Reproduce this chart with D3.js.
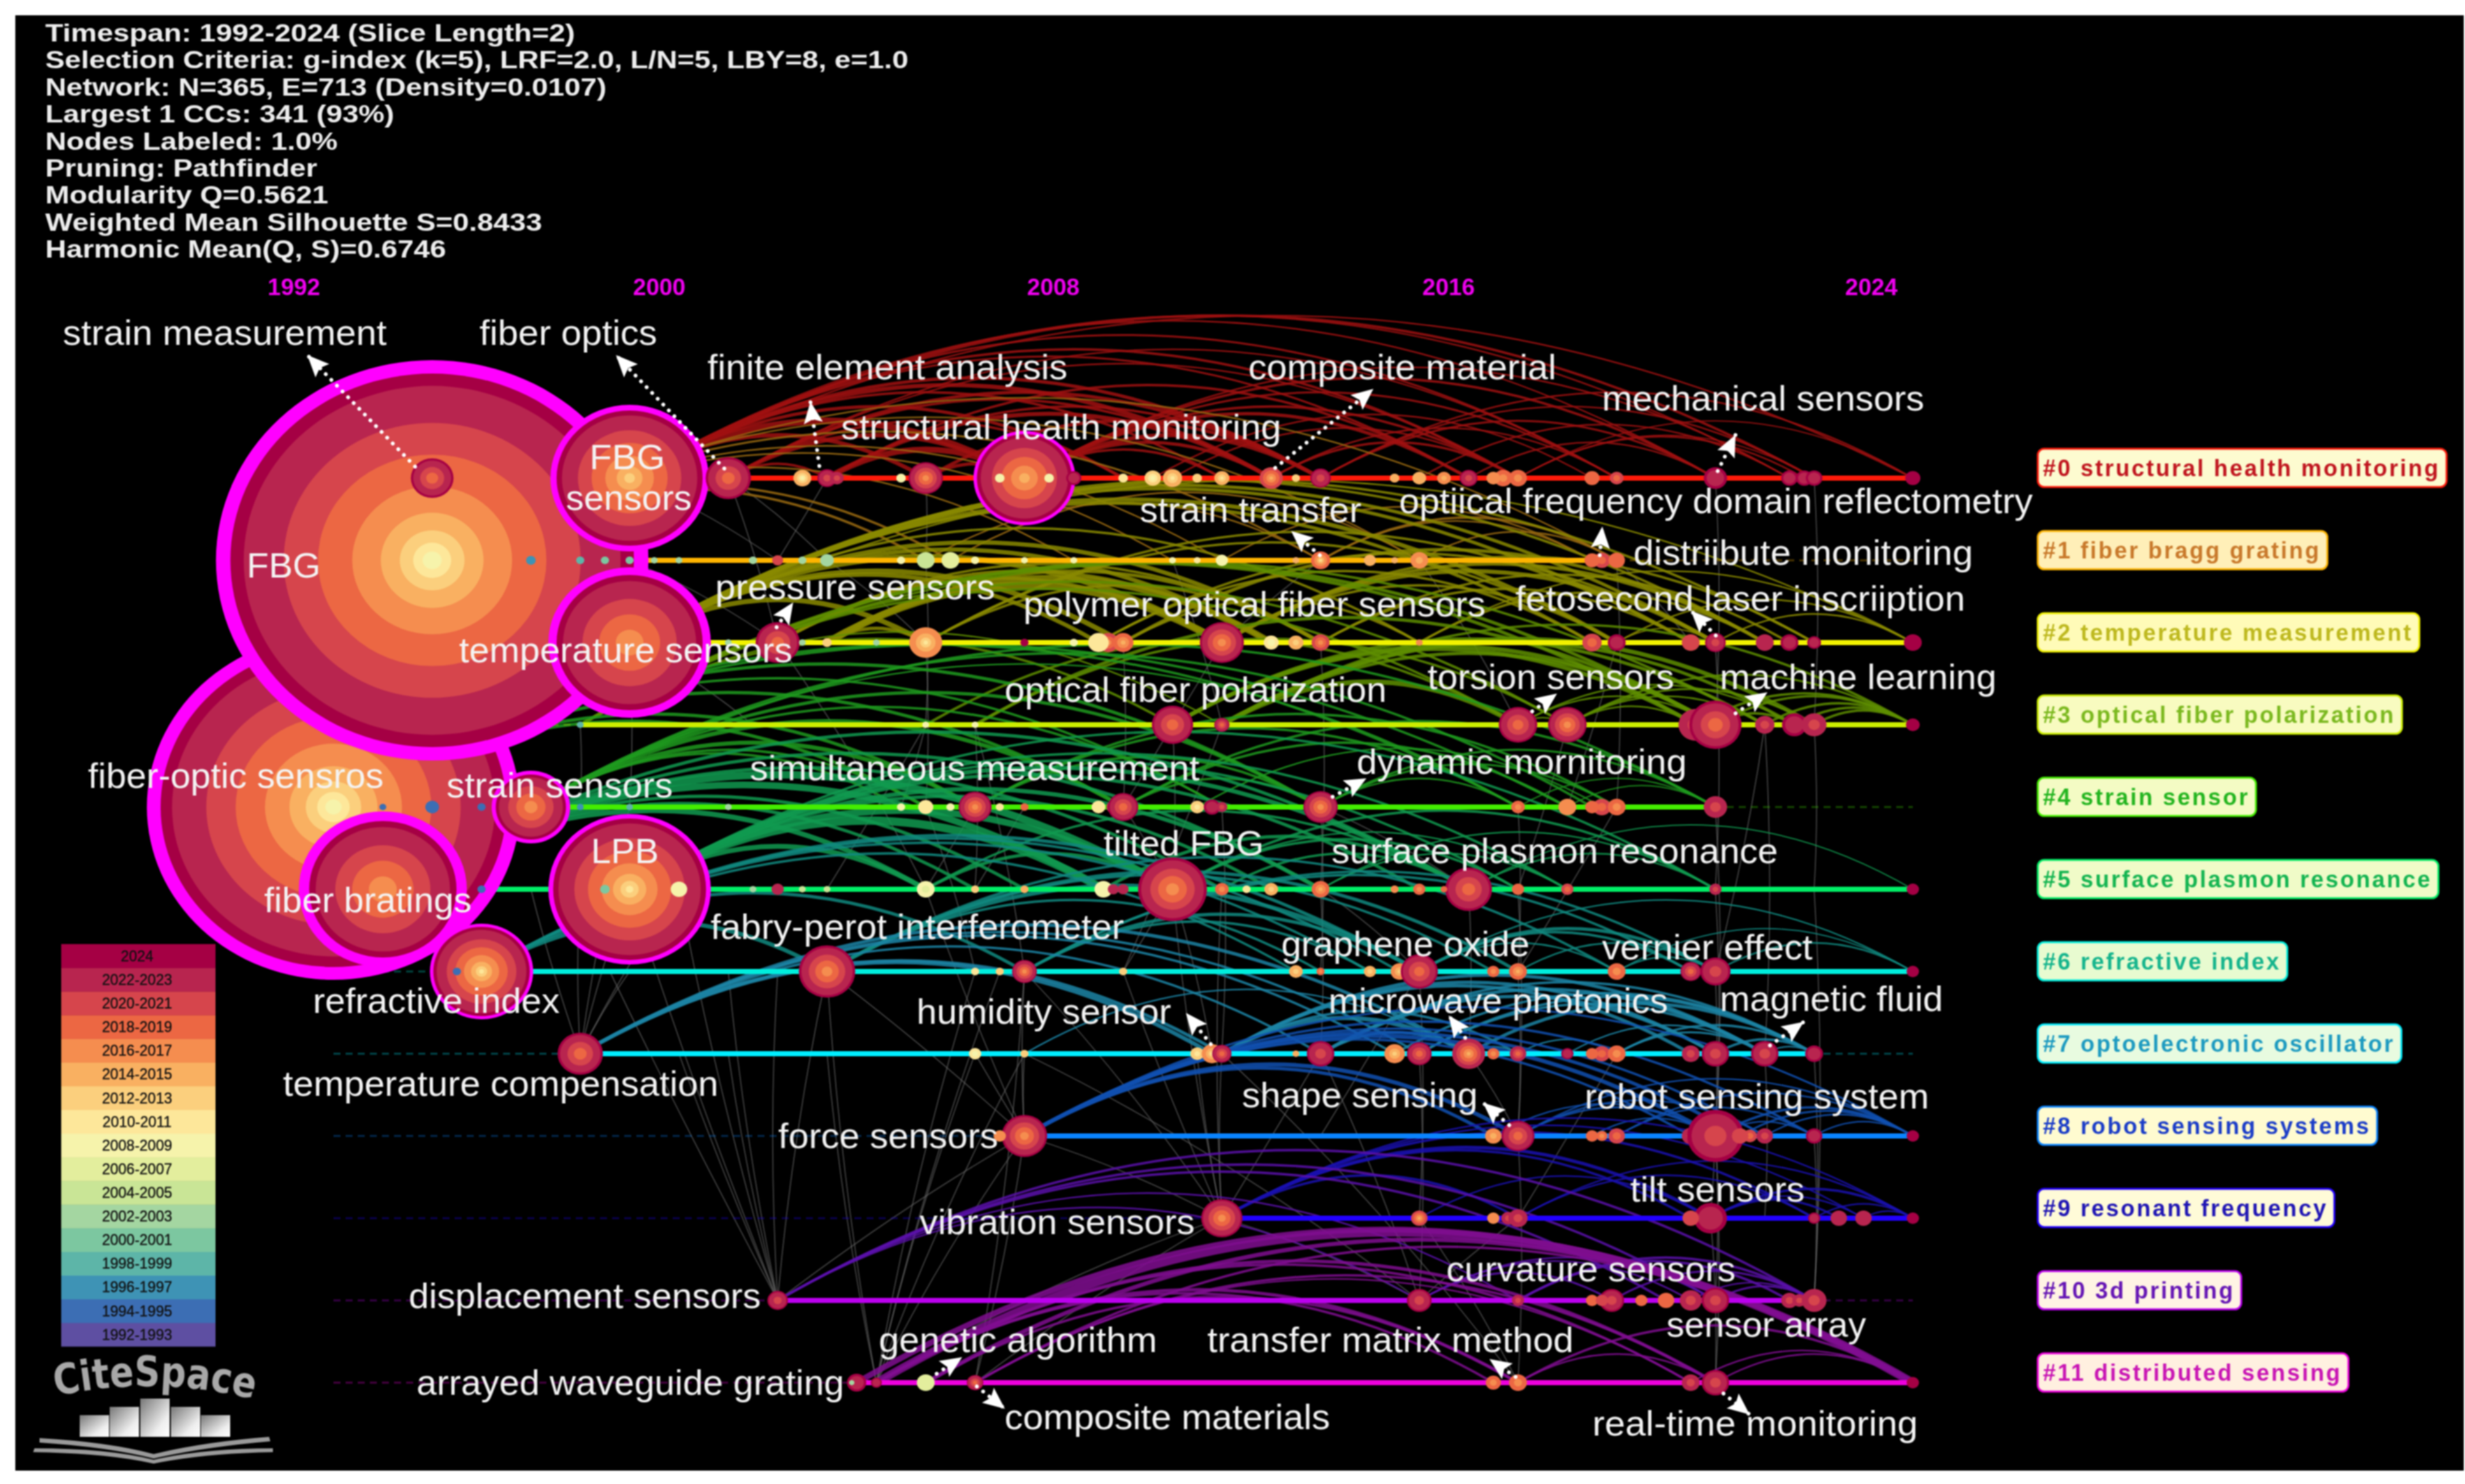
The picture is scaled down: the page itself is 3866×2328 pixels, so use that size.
<!DOCTYPE html>
<html>
<head>
<meta charset="utf-8">
<script src="https://cdnjs.cloudflare.com/ajax/libs/d3/7.8.5/d3.min.js"></script>
<style>
  html, body { margin: 0; padding: 0; background: #fff; }
  svg { display: block; filter: blur(0.9px); }
  text { font-family: "Liberation Sans", Arial, sans-serif; }
</style>
</head>
<body>
<div id="chart"></div>
<script>
// ---- data ----
const headerLines = [
  ["Timespan: 1992-2024 (Slice Length=2)", 337],
  ["Selection Criteria: g-index (k=5), LRF=2.0, L/N=5, LBY=8, e=1.0", 549],
  ["Network: N=365, E=713 (Density=0.0107)", 357],
  ["Largest 1 CCs: 341 (93%)", 222],
  ["Nodes Labeled: 1.0%", 186],
  ["Pruning: Pathfinder", 173],
  ["Modularity Q=0.5621", 180],
  ["Weighted Mean Silhouette S=0.8433", 316],
  ["Harmonic Mean(Q, S)=0.6746", 255]
];
const yearTicks = [1992, 2000, 2008, 2016, 2024];
const clusterNames = ["#0 structural health monitoring", "#1 fiber bragg grating", "#2 temperature measurement",
  "#3 optical fiber polarization", "#4 strain sensor", "#5 surface plasmon resonance", "#6 refractive index",
  "#7 optoelectronic oscillator", "#8 robot sensing systems", "#9 resonant frequency", "#10 3d printing", "#11 distributed sensing"];
const sliceLabels = ["1992-1993","1994-1995","1996-1997","1998-1999","2000-2001","2002-2003","2004-2005","2006-2007",
  "2008-2009","2010-2011","2012-2013","2014-2015","2016-2017","2018-2019","2020-2021","2022-2023","2024"];
// citations share per slice, sets the ring thickness
const sliceShare = [.04,.04,.04,.04,.04,.04,.04,.04,.05,.05,.07,.10,.15,.18,.18,.21,.07];

// nodes per cluster: [year, size, first cited slice, last cited slice, centrality ring]
const row0 = [[1994,31,2018,2024],[1998,115,2012,2024,9],[2000,33,2018,2024],[2001.5,13,2008,2014],[2002,14,2020,2024],[2002.2,10,2020,2022],
  [2003.5,7,2008,2008],[2004,25,2016,2024],[2006,74,2014,2024,5],[2005.5,7,2008,2008],[2006.5,7,2008,2008],[2007,11,2022,2024],
  [2008,7,2010,2010],[2008.6,12,2008,2012],[2009,14,2010,2014],[2009.5,7,2012,2012],[2010,11,2010,2014],[2011,17,2014,2020],[2011.5,6,2012,2012],
  [2012,15,2020,2024],[2013.5,7,2014,2014],[2014,10,2014,2014],[2014.5,10,2014,2016],[2015,13,2020,2024],[2015.5,10,2016,2016],[2015.7,13,2016,2018],
  [2016,13,2016,2018],[2017.5,11,2018,2018],[2018,10,2018,2020],[2020,17,2022,2024],[2021.5,12,2022,2024],[2021.8,12,2022,2024],[2022,12,2022,2024],[2024,11,2024,2024]];
const row1 = [[1994,314,2008,2024,21],[1996,7,1996,1996],[1997,6,1998,1998],[1997.5,6,2000,2000],[1998,6,2000,2000],[1998.5,5,2002,2002],[1999,5,2002,2002],
  [2000.5,6,2002,2002],[2001,8,2020,2020],[2001.5,6,2002,2002],[2002,10,2002,2002],[2003.5,6,2008,2008],[2004,13,2004,2004],[2004.5,13,2006,2006],[2005,6,2008,2008],
  [2006,5,2008,2008],[2007,5,2008,2008],[2009,5,2008,2008],[2009.5,5,2010,2010],[2010,9,2008,2008],[2011.5,5,2014,2014],[2012,14,2010,2018],[2013,9,2014,2014],
  [2013.5,5,2014,2014],[2014,13,2014,2016],[2017.5,11,2018,2018],[2017.7,12,2018,2020],[2018,12,2018,2018]];
const row2 = [[1998,118,2016,2024,12],[2000,5,2002,2002],[2001,32,2018,2024],[2001.5,5,2002,2002],[2002,7,2012,2012],[2003,5,2002,2002],[2004,24,2010,2016],
  [2006,6,2024,2024],[2007,6,2008,2008],[2007.5,15,2010,2010],[2007.7,15,2016,2020],[2008,15,2014,2018],[2010,32,2016,2024],[2011,11,2008,2010],[2011.5,11,2012,2014],
  [2012,13,2016,2020],[2014,5,2016,2016],[2017.5,14,2018,2020],[2018,13,2022,2024],[2019.5,13,2020,2020],[2020,15,2020,2024],[2021,13,2022,2022],[2021.5,13,2022,2024],[2022,10,2022,2024],[2024,13,2024,2024]];
const row3 = [[1997,5,1998,1998],[2004,5,2008,2008],[2005,5,2008,2008],[2009,30,2018,2024],[2010,11,2018,2024],[2016,28,2018,2024],[2017,28,2016,2024],
  [2019.6,25,2020,2022],[2020,38,2018,2024],[2021,14,2020,2022],[2021.6,18,2022,2024],[2022,18,2020,2022],[2024,10,2024,2024]];
const row4 = [[1992,271,2008,2024,20],[1993,5,1994,1994],[1994,10,1994,1994],[1995,6,1994,1994],[1996,57,2016,2024,6],[1997,5,1996,1996],[1998,5,1998,1998],[2000,5,2002,2002],
  [2003.5,6,2008,2008],[2004,11,2010,2010],[2004.5,6,2008,2008],[2005,24,2016,2024],[2005.5,6,2010,2010],[2006,6,2018,2018],[2007.5,10,2010,2010],[2007.8,10,2020,2022],
  [2008,22,2018,2024],[2009.5,10,2010,2012],[2009.8,12,2022,2024],[2010,8,2020,2022],[2012,25,2016,2024],[2016,10,2016,2018],[2017,13,2016,2016],[2017.5,10,2018,2018],
  [2017.7,13,2018,2020],[2018,13,2016,2018],[2020,17,2020,2022]];
const row5 = [[1993,122,2016,2024,15],[1995,6,1994,1994],[1997.5,7,2000,2000],[1998,118,2010,2024,7],[1999,12,2008,2008],[2000.5,5,2002,2002],[2001,9,2022,2022],[2001.5,5,2004,2004],[2002,5,2004,2004],
  [2004,13,2006,2008],[2005,6,2012,2012],[2006,6,2014,2014],[2007.6,13,2008,2008],[2007.8,8,2022,2022],[2008,8,2022,2022],[2009,50,2016,2024],[2010,10,2016,2018],[2010.5,6,2010,2010],
  [2011,10,2012,2014],[2012,13,2014,2018],[2013.5,6,2016,2016],[2014,9,2016,2018],[2014.5,5,2018,2018],[2015,34,2018,2024],[2016,9,2018,2018],[2017,9,2018,2020],[2020,9,2020,2022],[2024,9,2024,2024]];
const row6 = [[1994.5,6,1994,1994],[1995,75,2010,2024,5],[2002,41,2016,2024],[2005,6,2010,2010],[2005.5,6,2012,2012],[2006,18,2016,2024],[2008,6,2012,2012],[2011.5,10,2012,2014],
  [2012,6,2016,2018],[2013,9,2012,2014],[2013.6,13,2012,2016],[2014,27,2018,2024],[2015.5,9,2016,2018],[2016,13,2014,2018],[2018,13,2016,2018],[2019.5,15,2018,2024],[2020,22,2020,2024],[2024,9,2024,2024]];
const row7 = [[1997,33,2018,2024],[2005,9,2008,2010],[2006,6,2012,2012],[2009.5,10,2010,2012],[2009.8,15,2010,2016],[2010,14,2018,2024],[2011.5,5,2014,2014],[2012,20,2020,2024],
  [2013.5,15,2012,2016],[2014,18,2018,2024],[2015,24,2014,2022],[2015.5,9,2016,2018],[2016,12,2018,2022],[2017,9,2022,2024],[2017.5,9,2018,2018],[2017.7,12,2018,2020],[2018,13,2016,2018],
  [2019.5,13,2020,2022],[2020,20,2020,2024],[2021,20,2020,2024],[2022,13,2022,2024]];
const row8 = [[2005.5,9,2016,2016],[2006,33,2016,2024],[2015.5,12,2014,2016],[2016,24,2018,2024],[2017.5,9,2018,2018],[2017.7,8,2016,2018],[2018,12,2018,2020],[2019.5,13,2020,2022],
  [2020,41,2020,2024],[2020.5,12,2020,2020],[2020.7,10,2018,2020],[2021,12,2020,2022],[2022,12,2022,2024],[2024,9,2024,2024]];
const row9 = [[2010,30,2016,2024],[2014,12,2014,2020],[2015.5,9,2016,2016],[2015.8,10,2020,2022],[2016,14,2020,2022],[2019.5,12,2020,2020],[2019.8,12,2020,2022],[2019.9,24,2022,2024],
  [2022,9,2022,2024],[2022.5,12,2022,2022],[2023,12,2022,2022],[2024,9,2024,2024]];
const row10 = [[2001,15,2020,2024],[2014,18,2020,2024],[2016,9,2020,2022],[2017.5,9,2018,2018],[2017.7,9,2020,2020],[2017.9,18,2020,2024],[2018.5,9,2018,2018],[2019,12,2018,2018],
  [2019.5,16,2020,2022],[2020,20,2020,2024],[2021.5,12,2020,2022],[2021.7,10,2020,2022],[2022,18,2020,2022]];
const row11 = [[2002.5,4,2002,2002],[2002.6,14,2022,2024],[2003,8,2022,2024],[2004,13,2006,2006],[2005,12,2018,2024],[2015.5,11,2016,2018],[2016,13,2016,2018],[2019.5,13,2020,2022],[2020,20,2020,2024],[2024,9,2024,2024]];
const clusterNodes = [row0, row1, row2, row3, row4, row5, row6, row7, row8, row9, row10, row11];

// co-occurrence arcs inside a cluster: [from year, to year, weight]
const arcs0 = [[1998,2024,2],[1998,2022,3],[1998,2021.5,2],[1998,2020,2],[1998,2018,2.5],[1998,2016,3],[1998,2015,2.5],[1998,2012,4],[1998,2011,5],[1998,2010,3],[1998,2008,4],[1998,2006,8],[1998,2004,5],
  [2000,2018,2],[2000,2016,2],[2000,2012,4],[2000,2011,3],[2000,2008,3],[2000,2006,5],[2000,2002,3],[2002,2006,7],[2002,2011,5],[2002,2015,3],[2002,2012,3],[2004,2012,4],[2004,2006,4],
  [2006,2020,3],[2006,2016,3],[2006,2015,4],[2006,2012,5],[2006,2011,4],[2006,2018,2.5],[2006,2021.5,2],[2006,2010,3],[2008.6,2017.5,2],[2009,2016,2],[2011,2016,3],[2011,2018,2],
  [2012,2020,2.5],[2012,2024,2],[2012,2022,2],[2014,2021.5,2],[2015,2020,2],[2016,2022,1.5],[2016,2021.8,2],[2016,2024,1.5]];
const arcs1 = [[1994,2009,2],[1994,2010,2],[1994,2012,2.5],[1994,2014,2],[1994,2018,2],[1994,2004,3],[1994,2004.5,3],[1994,2007,2],[2004,2012,2],[2004.5,2014,2],[2012,2018,3],[2012,2017.5,2],[2014,2018,2],[2010,2017.5,2]];
const arcs2 = [[1998,2024,2],[1998,2022,3],[1998,2021,3],[1998,2020,4],[1998,2019.5,4],[1998,2018,5],[1998,2017.5,4],[1998,2014,3],[1998,2012,5],[1998,2011,5],[1998,2010,7],[1998,2008,6],[1998,2007.5,5],[1998,2004,6],
  [2001,2010,4],[2001,2011,4],[2001,2012,3],[2002,2010,9],[2002,2011,8],[2002,2012,4],[2002,2004,4],[2004,2018,3],[2004,2012,3],[2004,2019.5,3],[2007.5,2020,3],[2007.5,2017.5,3],[2008,2021,4],[2008,2014,3],
  [2010,2022,3],[2010,2020,5],[2010,2021,4],[2010,2018,3],[2012,2021.5,3],[2012,2019.5,3],[2014,2024,2],[2018,2024,2],[2018,2020,1.5],[2020,2024,2],[2014,2021,3]];
const arcs3 = [[1997,2009,3],[1997,2016,3],[1997,2017,3],[1997,2019.6,4],[1997,2020,4],[1997,2021,3],[1997,2010,2],[2004,2016,3],[2005,2017,3],[2005,2020,4],[2009,2019.6,5],[2009,2020,5],[2009,2021,4],
  [2010,2022,5],[2010,2024,3],[2010,2021.6,4],[2010,2016,6],[2010,2020,4],[2016,2020,2],[2016,2017,2],[2017,2021,2],[2017,2022,2.5],[2017,2024,2.5],[2019.6,2024,3],[2020,2024,3],[2020,2021.6,3],[2021,2024,3],[2021.6,2024,3],[2022,2024,3],[2016,2021.6,2],[2017,2019.6,2]];
const arcs4 = [[1996,2003.5,3],[1996,2004,3],[1996,2005,5],[1996,2008,5],[1996,2012,4],[1996,2010,3],[1992,2004,4],[1992,2005,4],[1992,2008,4],[1992,2010,3],[1992,2012,4],[1992,2016,3],[1992,2017,3],[1996,2017.5,3],[1996,2016,2],[1996,2020,3],
  [2005,2012,3],[2005,2016,3],[2005,2018,3],[2008,2012,3],[2008,2017,3],[2008,2020,3],[2012,2020,2.5],[2012,2018,2.5],[2012,2016,2],[2009.5,2017.7,2],[2016,2020,1.5],[2017,2020,1.5]];
const arcs5 = [[1993,2004,6],[1993,2007.6,8],[1993,2009,9],[1993,2005,4],[1993,2006,4],[1993,2010,4],[1993,2012,4],[1993,2015,4],[1998,2004,6],[1998,2007.6,10],[1998,2009,8],[1998,2011,4],[1998,2012,5],[1998,2014,4],[1998,2015,5],[1998,2016,3],[1998,2017,3],[1998,2020,3],
  [2004,2009,4],[2004,2015,3],[2007.6,2015,4],[2009,2016,3],[2009,2020,3],[2009,2017,2],[2010,2015,3],[2012,2020,2],[2015,2024,1.5],[2015,2020,2],[2012,2017,2]];
const arcs6 = [[1995,2002,5],[1995,2006,4],[1995,2011.5,3],[1995,2014,4],[1995,2013,3],[1995,2013.6,3],[2002,2014,5],[2002,2012,3],[2002,2016,4],[2002,2015.5,3],[2002,2018,3],[2006,2014,4],[2006,2013,3],[2006,2019.5,3],[2006,2020,3],
  [2014,2020,4],[2014,2019.5,3],[2014,2018,2],[2014,2024,2],[2016,2020,2],[2018,2024,1.5],[2020,2024,2],[2018,2020,2]];
const arcs7 = [[1997,2009.8,5],[1997,2010,4],[1997,2012,3],[1997,2013.5,3],[1997,2014,3],[1997,2015,4],[2006,2015,2],[2010,2015,5],[2010,2016,3],[2010,2019.5,4],[2010,2020,4],[2010,2021,4],[2012,2015,3],[2012,2020,4],[2012,2021,4],[2012,2022,3],
  [2013.5,2022,3],[2014,2021,3],[2014,2022,3],[2015,2022,4],[2015,2016,2],[2016,2018,2],[2018,2021,2.5],[2018,2022,3],[2020,2022,3],[2021,2022,2],[2017,2021,2]];
const arcs8 = [[2006,2020,5],[2006,2016,5],[2006,2015.5,4],[2006,2019.5,3],[2006,2020.5,4],[2006,2021,3],[2006,2022,3],[2006,2024,2.5],[2015.5,2020,2],[2016,2020,2.5],[2016,2021,2],[2016,2024,2],[2017.5,2020,2],[2018,2024,2],[2018,2022,2],[2020,2024,3],[2020,2022,2],[2020.5,2024,2.5],[2021,2024,2],[2022,2024,2]];
const arcs9 = [[2010,2019.9,4],[2010,2016,3],[2010,2019.5,3],[2010,2022,3],[2010,2023,2],[2010,2024,2],[2014,2019.9,2],[2016,2024,2],[2016,2022,2],[2019.9,2022.5,2.5],[2019.9,2024,3],[2019.9,2023,2],[2022,2024,2],[2023,2024,2]];
const arcs10 = [[2001,2022,3],[2001,2020,3],[2001,2019,3],[2001,2014,2],[2001,2016,2],[2014,2017.9,2.5],[2014,2019.5,2],[2014,2020,2],[2016,2021.5,3],[2017.9,2022,2.5],[2020,2022,2.5],[2019.5,2022,2],[2016,2022,3]];
const arcs11 = [[2003,2024,10],[2002.6,2024,7],[2003,2020,4],[2003,2019.5,3],[2003,2016,4],[2003,2015.5,3],[2005,2020,3],[2005,2024,3],[2004,2016,3],[2004,2024,5],[2016,2024,3],[2016,2020,2],[2020,2024,2],[2019.5,2024,2],[2005,2019.5,2]];
const clusterArcs = [arcs0, arcs1, arcs2, arcs3, arcs4, arcs5, arcs6, arcs7, arcs8, arcs9, arcs10, arcs11];

// links between clusters: [row a, year a, row b, year b]
const crossLinks = [[7,1997,5,1996],[7,1997,5,1997],[7,1997,5,1998],[7,1997,4,1998],[7,1997,5,1999],[7,1997,6,1998],[10,2001,6,1997.6],[10,2001,5,1998],[10,2001,5,1999],[10,2001,7,2000],[10,2001,7,1999],[10,2001,6,2002],[10,2001,6,2001],[10,2001,6,2000],
  [11,2003,6,2002],[11,2003,7,2002],[11,2003,7,2005],[11,2003,7,2006],[11,2003,8,2006],[11,2003,6,2005],[11,2003,6,2005.5],[11,2003,9,2010],[9,2010,7,2009.5],[9,2010,7,2010],[9,2010,6,2008],[9,2010,5,2009],[9,2010,5,2010],[9,2010,8,2006],
  [8,2006,7,2005],[8,2006,7,2006],[8,2006,6,2006],[8,2006,6,2002],[8,2006,5,2004],[2,2001,5,2004],[2,2004,4,2004],[3,2004,5,2002],[3,2005,5,2005],[3,2005,6,2006],[1,2004,3,2004],[1,2002,2,2004],[0,2004,1,2004],[0,2000,1,2002],[0,2000,2,2001],[0,2002,1,2001],
  [0,1998,1,2001],[1,1998,2,2001],[2,1998,3,2000.5],[3,1997,4,1997],[2,1998,4,1998],[3,2004,4,2003.5],[4,2005,5,2004],[4,2004,6,2005],[4,2006,5,2005],[2,2010,3,2009],[1,2012,2,2010],[3,2009,4,2008],[3,2009,5,2009],[4,2008,5,2009],[5,2009,6,2008],[5,2009,7,2009.8],[6,2014,8,2012],
  [0,2020,3,2020],[0,2022,3,2022],[3,2022,5,2022],[4,2020,8,2020],[5,2020,8,2020],[3,2021,7,2021],[7,2022,10,2022],[5,2022,10,2022],[1,2018,2,2019.5],[8,2020,11,2020],[8,2020,10,2020],[3,2021,6,2020],[9,2019.9,11,2020],[8,2022,10,2022],[7,2021,9,2021],[6,2020,9,2019.9],[7,2018,9,2016],
  [6,2016,8,2016],[7,2015,8,2016],[7,2014,10,2014],[8,2016,11,2016],[9,2014,11,2016],[9,2016,10,2014],[5,2015,7,2015],[5,2012,7,2012],[5,2012,6,2014],[6,2014,9,2014],[4,2012,6,2012],[4,2012,5,2015],[4,2016,6,2016],[4,2018,6,2016],[5,2016,8,2016],[7,2012,9,2010],[7,2012,10,2014],
  [8,2006,10,2001],[9,2010,10,2014],[9,2010,11,2005],[8,2006,11,2005],[7,2010,11,2016],[6,2006,9,2010],[6,2006,11,2005],[7,2006,10,2014],[2,2012,5,2012],[3,2010,6,2008],[4,2010,7,2010],[1,2009,3,2010],[2,2008,4,2008],[1,2014,3,2016],[2,2018,4,2017],[3,2017,5,2016],[2,2020,5,2020],[1,2018,4,2018]];

// ---- layout and style (not data) ----
const W = 3866, H = 2328;
const U = W / 1568; // label boxes were measured on a 1568 wide copy
const stretch = 1.08; // the source picture is wider than tall
const sliceColors = ["#5E4FA2","#3C6EB4","#3E93B5","#5DB5A8","#7CC7A0","#A4D6A1","#C9E596","#E3EE9D","#F6F3AB","#FDE79A","#FBCF7D","#F9B061","#F58D4F","#EC6743","#D6454C","#B8254F","#A50044"];
const lineColors = ["#FF1A0A","#FFB400","#F2F200","#CCEE00","#44EE00","#00EE66","#00EEDD","#00EEFF","#0A84FF","#2200FF","#BB00EE","#EE00DD"];
const arcColors = ["#A01010","#9A6A10","#8A8A00","#5E8E00","#1E9A1E","#109A50","#108A80","#1C84A4","#1050B0","#1A10B0","#5A10AA","#800E90"];
const clusterText = ["#C0141E","#C8782A","#BDB81E","#7AB81E","#22B41E","#12B450","#14B48C","#1C9AC0","#1A3CC8","#1E14B4","#6414B4","#C814B4"];
const clusterFill = ["#FDFBD0","#FFEFB8","#FFFBB8","#F8FBC0","#F4FBC4","#F0FBC8","#E8FBD0","#E8FBE0","#FFFBD0","#FFFBD8","#FFF4E4","#FFF0E0"];

// [text, left, right, centre y] on the 1568 wide copy
const labelBoxes = [["strain measurement",40,246,212],["fiber optics",305,418,212],["finite element analysis",450,679,234],["composite material",794,990,234],
  ["mechanical sensors",1019,1224,254],["structural health monitoring",535,815,272],["FBG",375,423,291],["sensors",360,440,317],["strain transfer",725,866,325],
  ["optiical frequency domain reflectometry",890,1293,319],["distriibute monitoring",1039,1255,352],["FBG",157,204,360],["pressure sensors",455,633,374],
  ["polymer optical fiber sensors",651,945,385],["fetosecond laser inscriiption",964,1250,381],["temperature sensors",292,504,414],["optical fiber polarization",639,882,439],
  ["torsion sensors",908,1065,431],["machine learning",1094,1270,431],["fiber-optic sensros",56,244,494],["simultaneous measurement",477,763,489],["dynamic mornitoring",863,1073,485],
  ["strain sensors",284,428,500],["LPB",376,419,542],["tilted FBG",702,804,537],["surface plasmon resonance",847,1131,542],["fiber bratings",168,300,573],
  ["fabry-perot interferometer",452,715,590],["graphene oxide",815,973,601],["vernier effect",1019,1153,603],["refractive index",199,356,637],["microwave photonics",845,1061,637],
  ["magnetic fluid",1094,1236,636],["humidity sensor",583,745,644],["temperature compensation",180,457,690],["shape sensing",790,940,697],["robot sensing system",1008,1227,698],
  ["force sensors",495,635,723],["vibration sensors",585,760,778],["tilt sensors",1037,1148,757],["curvature sensors",920,1104,808],["displacement sensors",260,484,825],
  ["sensor array",1060,1187,843],["genetic algorithm",559,736,853],["transfer matrix method",768,1001,853],["arrayed waveguide grating",265,537,880],["composite materials",639,846,902],["real-time monitoring",1013,1220,906]];
// dotted pointers: [from x, from y, tip x, tip y]
const pointers = [[651,732,482,557],[1136,735,966,557],[1285,731,1271,630],[2000,734,2154,610],[2694,739,2722,682],[2070,871,2025,833],[2509,871,2513,826],[1218,984,1244,945],
  [2691,997,2652,958],[2403,1116,2442,1088],[2722,1119,2772,1086],[2090,1250,2143,1221],[1899,1638,1860,1589],[2298,1628,2272,1593],[2776,1640,2829,1603],[2367,1765,2326,1730],
  [1469,2155,1509,2129],[1532,2175,1576,2210],[2377,2160,2336,2132],[2703,2186,2744,2219]];

const xYear = d3.scaleLinear().domain([1992, 2024]).range([523, 3000]);
const yRow = d3.scaleLinear().domain([0, 11]).range([750, 2169]);
const rSize = d3.scaleLinear().domain([0, 314]).range([0, 314]);
// the year captions sit a little off the node columns
const xTick = d3.scaleLinear().domain(yearTicks).range([461, 1034, 1652, 2272, 2935]);
const sliceOf = y => Math.floor((y - 1992) / 2);

const svg = d3.select("#chart").append("svg").attr("width", W).attr("height", H);
svg.append("rect").attr("x", 24).attr("y", 24).attr("width", 3840).attr("height", 2283).attr("fill", "#000");

// header block
svg.append("g").selectAll("text").data(headerLines).enter().append("text")
  .attr("x", 71).attr("y", (d, i) => 51 + i * 42.4).attr("dy", ".36em")
  .attr("font-size", 39).attr("font-weight", "bold").attr("fill", "#EEE")
  .attr("textLength", d => d[1] * U).attr("lengthAdjust", "spacingAndGlyphs")
  .text(d => d[0]);

// year captions
svg.append("g").selectAll("text").data(yearTicks).enter().append("text")
  .attr("x", d => xTick(d)).attr("y", 450).attr("dy", ".36em").attr("text-anchor", "middle")
  .attr("font-size", 37).attr("font-weight", "bold").attr("fill", "#EE00EE")
  .text(d => d);

// grey links between clusters
const linkPath = l => {
  const p = d3.path();
  const x0 = xYear(l[1]), y0 = yRow(l[0]), x1 = xYear(l[3]), y1 = yRow(l[2]);
  p.moveTo(x0, y0);
  p.quadraticCurveTo((x0 + x1) / 2 + (y1 - y0) * 0.03, (y0 + y1) / 2 - Math.abs(x1 - x0) * 0.06, x1, y1);
  return p.toString();
};
svg.append("g").selectAll("path").data(crossLinks).enter().append("path")
  .attr("d", linkPath).attr("fill", "none").attr("stroke", "#6a6a6a").attr("stroke-opacity", 0.6).attr("stroke-width", 1.8);

// arcs, then the cluster lines
const arcPath = (a, row) => {
  const p = d3.path();
  const x0 = xYear(a[0]), x1 = xYear(a[1]), y = yRow(row);
  const h = Math.min(0.145 * (x1 - x0), 255);
  p.moveTo(x0, y);
  p.quadraticCurveTo((x0 + x1) / 2, y - 2 * h, x1, y);
  return p.toString();
};
clusterArcs.forEach((list, row) => {
  svg.append("g").selectAll("path").data(list).enter().append("path")
    .attr("d", d => arcPath(d, row)).attr("fill", "none")
    .attr("stroke", arcColors[row]).attr("stroke-opacity", 0.85).attr("stroke-width", d => d[2] * 1.3);
});

clusterNodes.forEach((list, row) => {
  const ext = d3.extent(list, d => d[0]);
  const g = svg.append("g");
  g.append("line").attr("x1", xYear(1992)).attr("x2", xYear(2024)).attr("y1", yRow(row)).attr("y2", yRow(row))
    .attr("stroke", lineColors[row]).attr("stroke-opacity", 0.3).attr("stroke-width", 3).attr("stroke-dasharray", "11 8");
  g.append("line").attr("x1", xYear(ext[0])).attr("x2", xYear(ext[1])).attr("y1", yRow(row)).attr("y2", yRow(row))
    .attr("stroke", lineColors[row]).attr("stroke-width", 8);
});

// nodes: ringed ones by year, single colour dots on top
const allNodes = [];
clusterNodes.forEach((list, row) => list.forEach(n => allNodes.push({row, year: n[0], size: n[1], first: n[2], last: n[3], hub: n[4] || 0})));
const isDot = d => d.first === d.last;
allNodes.sort((a, b) => (isDot(a) - isDot(b)) || (a.year - b.year) || (b.size - a.size));

const nodeG = svg.append("g").selectAll("g").data(allNodes).enter().append("g")
  .attr("transform", d => `translate(${xYear(d.year)},${yRow(d.row)}) scale(${stretch},1)`);

nodeG.each(function(d) {
  const g = d3.select(this);
  const r = rSize(d.size);
  if (d.hub) g.append("circle").attr("r", r).attr("fill", "#FF00FF");
  const inner = r - d.hub;
  const slices = d3.range(sliceOf(d.first), sliceOf(d.last) + 1);
  const total = d3.sum(slices, s => sliceShare[s]);
  let rest = inner;
  slices.reverse().forEach(s => {
    g.append("circle").attr("r", rest).attr("fill", sliceColors[s]);
    rest -= inner * sliceShare[s] / total;
  });
});

// dotted pointers with a white head
const pointerG = svg.append("g").selectAll("g").data(pointers).enter().append("g");
pointerG.append("line")
  .attr("x1", d => d[0]).attr("y1", d => d[1]).attr("x2", d => d[2]).attr("y2", d => d[3])
  .attr("stroke", "#fff").attr("stroke-width", 6).attr("stroke-linecap", "round").attr("stroke-dasharray", "0.1 12.5");
pointerG.append("path")
  .attr("d", "M0,0 L-34,-15 L-28,0 L-34,15 Z").attr("fill", "#fff")
  .attr("transform", d => `translate(${d[2]},${d[3]}) rotate(${Math.atan2(d[3] - d[1], d[2] - d[0]) * 180 / Math.PI})`);

// node labels
svg.append("g").selectAll("text").data(labelBoxes).enter().append("text")
  .attr("x", d => d[1] * U).attr("y", d => d[3] * U).attr("dy", ".33em")
  .attr("font-size", 55).attr("fill", "#F4F4F4")
  .attr("textLength", d => (d[2] - d[1]) * U).attr("lengthAdjust", "spacingAndGlyphs")
  .text(d => d[0]);

// cluster tags on the right
const tag = svg.append("g").selectAll("g").data(clusterNames).enter().append("g")
  .attr("transform", (d, i) => `translate(3196,${yRow(i) - 46})`);
const tagRect = tag.append("rect").attr("height", 60).attr("rx", 10).attr("ry", 10)
  .attr("fill", (d, i) => clusterFill[i]).attr("stroke", (d, i) => lineColors[i]).attr("stroke-width", 3);
const tagText = tag.append("text").attr("x", 8).attr("y", 30).attr("dy", ".35em")
  .attr("font-size", 36).attr("font-weight", "bold").attr("letter-spacing", 3)
  .attr("fill", (d, i) => clusterText[i]).text(d => d);
tagRect.attr("width", (d, i) => tagText.nodes()[i].getComputedTextLength() + 18);

// year legend
const legendY = d3.scaleBand().domain(sliceLabels.slice().reverse()).range([1481, 2112]);
const legend = svg.append("g").selectAll("g").data(sliceLabels).enter().append("g");
legend.append("rect").attr("x", 96).attr("width", 242).attr("y", d => legendY(d)).attr("height", legendY.bandwidth() + 0.5)
  .attr("fill", (d, i) => sliceColors[i]);
legend.append("text").attr("x", 215).attr("y", d => legendY(d) + legendY.bandwidth() / 2).attr("dy", ".36em")
  .attr("text-anchor", "middle").attr("font-size", 23).attr("fill", "#111").attr("stroke", "#111").attr("stroke-width", 0.4).text(d => d);

// logo
const defs = svg.append("defs");
const barGrad = defs.append("linearGradient").attr("id", "barGrad").attr("x1", 0).attr("x2", 1).attr("y1", 0).attr("y2", 1);
barGrad.append("stop").attr("offset", "0%").attr("stop-color", "#777");
barGrad.append("stop").attr("offset", "70%").attr("stop-color", "#eee");
barGrad.append("stop").attr("offset", "100%").attr("stop-color", "#fff");
defs.append("path").attr("id", "logoArc").attr("d", "M88,2190 Q245,2156 402,2196");
svg.append("text").attr("font-size", 66).attr("font-weight", "bold").attr("fill", "#A8A8A8")
  .style("font-family", "'DejaVu Sans', sans-serif")
  .append("textPath").attr("href", "#logoArc").attr("textLength", 312).attr("lengthAdjust", "spacingAndGlyphs").text("CiteSpace");
const logoBars = [[125,2220],[172,2207],[220,2194],[268,2207],[315,2220]];
svg.append("g").selectAll("rect").data(logoBars).enter().append("rect")
  .attr("x", d => d[0]).attr("y", d => d[1]).attr("width", 46).attr("height", d => 2254 - d[1]).attr("fill", "url(#barGrad)");
const bookPages = ["M62,2256 Q170,2262 241,2281 Q320,2262 422,2254 L424,2261 Q320,2270 241,2288 Q170,2270 62,2263 Z",
  "M54,2272 Q170,2272 241,2290 Q320,2272 428,2272 L428,2278 Q320,2280 241,2296 Q170,2280 52,2278 Z"];
svg.append("g").selectAll("path").data(bookPages).enter().append("path").attr("d", d => d).attr("fill", "#9a9a9a");
</script>
</body>
</html>
